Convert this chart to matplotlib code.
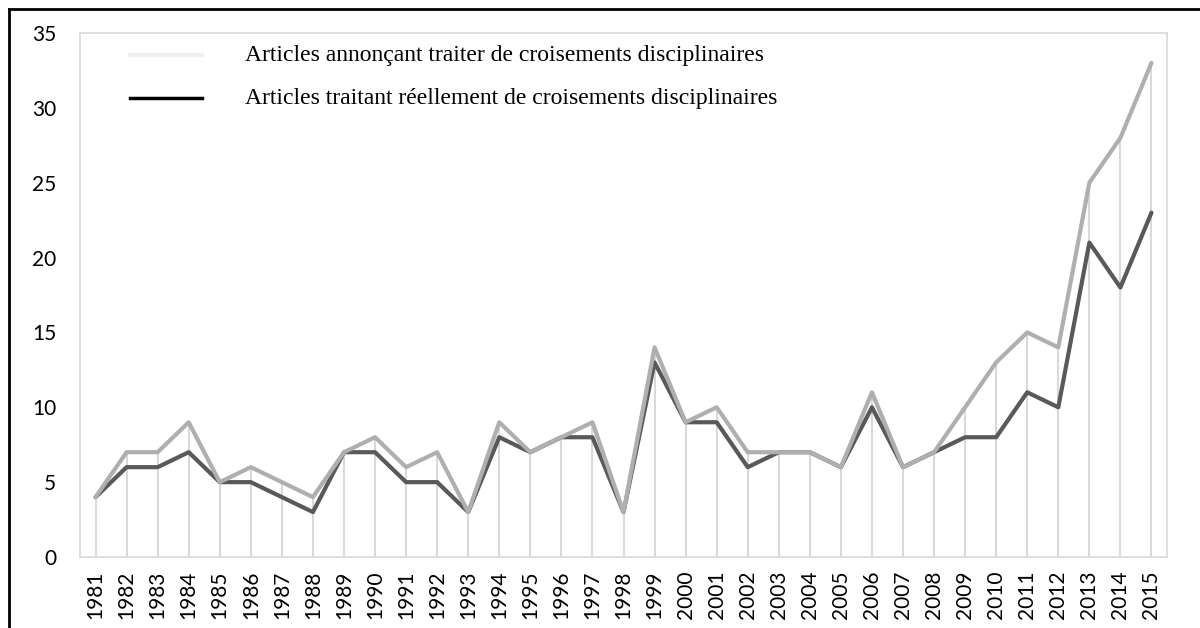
import matplotlib
matplotlib.use('Agg')
import matplotlib.pyplot as plt
import numpy as np

years = [str(y) for y in range(1981, 2016)]
annonces = [4, 7, 7, 9, 5, 6, 5, 4, 7, 8, 6, 7, 3, 9, 7, 8, 9, 3, 14, 9,
            10, 7, 7, 7, 6, 11, 6, 7, 10, 13, 15, 14, 25, 28, 33]
reels = [4, 6, 6, 7, 5, 5, 4, 3, 7, 7, 5, 5, 3, 8, 7, 8, 8, 3, 13, 9,
         9, 6, 7, 7, 6, 10, 6, 7, 8, 8, 11, 10, 21, 18, 23]
label_annonces = 'Articles annonçant traiter de croisements disciplinaires'
label_reels = 'Articles traitant réellement de croisements disciplinaires'

fig = plt.figure(figsize=(12, 6.28), dpi=100)
ax = fig.add_axes([80/1200, 71/628, 1087/1200, 524/628])

x = np.arange(len(years))
top = np.maximum(annonces, reels)
# drop lines from highest point down to the axis
ax.vlines(x, 0, top, color='#d9d9d9', lw=1.5, zorder=1)

ax.plot(x, reels, color='#595959', lw=3, solid_capstyle='round', zorder=3)
ax.plot(x, annonces, color='#afafaf', lw=3, solid_capstyle='round', zorder=4)

ax.set_xlim(-0.5, len(years) - 0.5)
ax.set_ylim(0, 35)
ax.set_yticks(range(0, 36, 5))
ax.set_xticks(x)
ax.set_xticklabels(years, rotation=90)
ax.tick_params(length=0, labelsize=15)
ax.tick_params(axis='x', pad=10)
ax.tick_params(axis='y', pad=17)
for lab in ax.get_xticklabels() + ax.get_yticklabels():
    lab.set_fontfamily('Lato')
for s in ax.spines.values():
    s.set_color('#d9d9d9')
    s.set_linewidth(1.2)

# legend drawn by hand (colours differ from the lines in the original)
ax.plot([1.11, 3.43], [33.5, 33.5], color='#efefef', lw=3, clip_on=False)
ax.plot([1.11, 3.43], [30.65, 30.65], color='#000000', lw=2.5, clip_on=False)
ax.text(4.81, 33.5, label_annonces, fontsize=17, family='Liberation Serif', va='center')
ax.text(4.81, 30.65, label_reels, fontsize=17, family='Liberation Serif', va='center')

# outer black frame (top and left edges visible)
fig.add_artist(plt.Line2D([9/1200, 1.0], [1 - 9/628, 1 - 9/628], color='black', lw=2, transform=fig.transFigure))
fig.add_artist(plt.Line2D([9/1200, 9/1200], [0, 1 - 9/628], color='black', lw=2, transform=fig.transFigure))

fig.savefig('out.png', dpi=100)
